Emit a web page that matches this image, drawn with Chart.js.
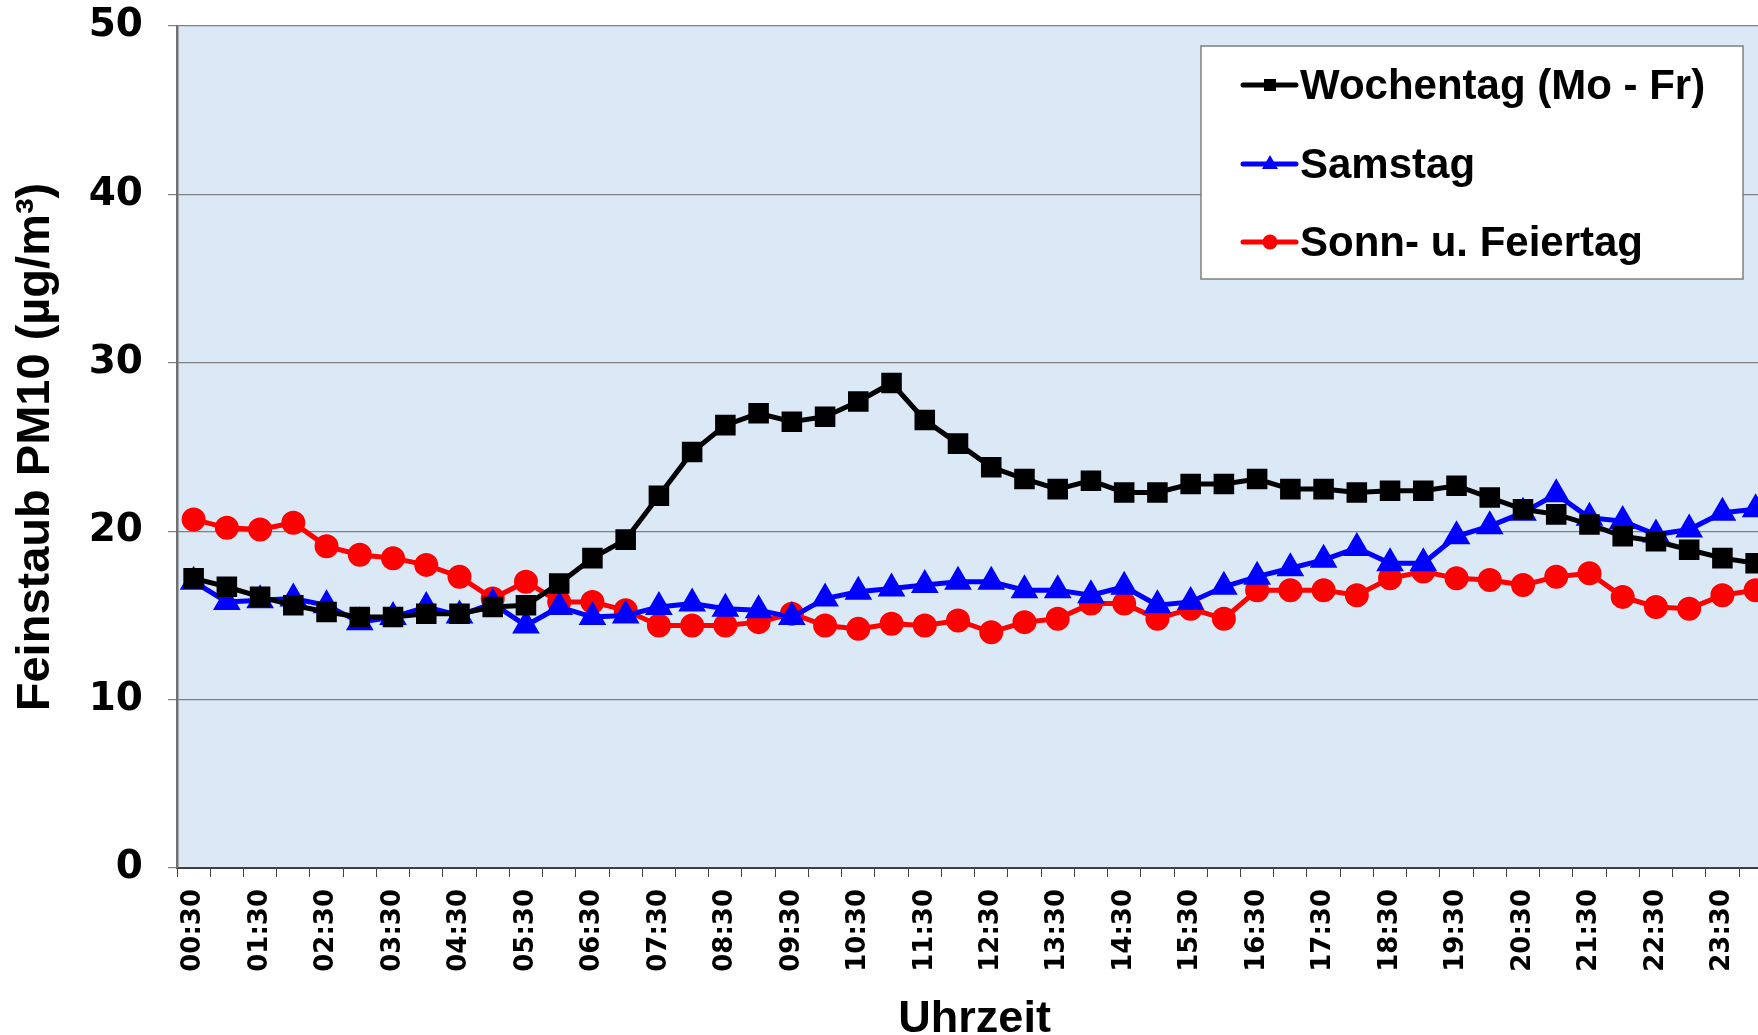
<!DOCTYPE html>
<html><head><meta charset="utf-8">
<script src="https://cdn.jsdelivr.net/npm/chart.js@4"></script>
<style>
html,body{margin:0;padding:0;background:#fff;overflow:hidden;width:1758px;height:1035px}
#wrap{width:1799px;height:1035px;position:relative}
</style>
</head><body><div id="wrap"><canvas id="c" width="1799" height="1035"></canvas></div>
<script>
const categories = ["00:30","01:00","01:30","02:00","02:30","03:00","03:30","04:00","04:30","05:00","05:30","06:00",
  "06:30","07:00","07:30","08:00","08:30","09:00","09:30","10:00","10:30","11:00","11:30","12:00",
  "12:30","13:00","13:30","14:00","14:30","15:00","15:30","16:00","16:30","17:00","17:30","18:00",
  "18:30","19:00","19:30","20:00","20:30","21:00","21:30","22:00","22:30","23:00","23:30","24:00"];
const wochentag = [17.2,16.7,16.1,15.6,15.2,14.9,14.9,15.1,15.1,15.5,15.6,16.9,
  18.4,19.5,22.1,24.7,26.3,27.0,26.5,26.8,27.7,28.8,26.6,25.2,
  23.8,23.1,22.5,23.0,22.3,22.3,22.8,22.8,23.1,22.5,22.5,22.3,
  22.4,22.4,22.7,22.0,21.3,21.0,20.4,19.7,19.4,18.9,18.4,18.1];
const samstag = [17.0,15.8,15.9,16.0,15.6,14.6,14.9,15.5,15.0,15.7,14.4,15.5,
  14.9,15.0,15.5,15.7,15.4,15.3,14.9,16.0,16.4,16.6,16.8,17.0,
  17.0,16.5,16.5,16.2,16.7,15.6,15.8,16.7,17.3,17.8,18.3,19.0,
  18.1,18.1,19.7,20.3,21.1,22.2,20.8,20.6,19.8,20.1,21.1,21.3];
const sonntag = [20.7,20.2,20.1,20.5,19.1,18.6,18.4,18.0,17.3,16.0,17.0,15.8,
  15.8,15.3,14.4,14.4,14.4,14.6,15.1,14.4,14.2,14.5,14.4,14.7,
  14.0,14.6,14.8,15.7,15.7,14.8,15.4,14.8,16.5,16.5,16.5,16.2,
  17.2,17.6,17.2,17.1,16.8,17.3,17.5,16.1,15.5,15.4,16.2,16.5];
const seriesNames = ["Wochentag (Mo - Fr)","Samstag","Sonn- u. Feiertag"];
const yTitle = "Feinstaub PM10 (µg/m³)";
const xTitle = "Uhrzeit";

const bgPlugin = {
  id:'bg',
  beforeDraw(chart){
    const {ctx, chartArea:a} = chart;
    ctx.save();
    ctx.fillStyle = '#dbe8f6';
    ctx.fillRect(a.left, a.top, a.right-a.left, a.bottom-a.top);
    ctx.restore();
  }
};

const legendPlugin = {
  id:'boxLegend',
  afterDraw(chart){
    const ctx = chart.ctx;
    ctx.save();
    const bx=1201, by=46, bw=542, bh=233;
    ctx.fillStyle='#ffffff';
    ctx.fillRect(bx,by,bw,bh);
    ctx.strokeStyle='#7f7f7f';
    ctx.lineWidth=1.5;
    ctx.strokeRect(bx,by,bw,bh);
    const rows=[85,164,242];
    chart.data.datasets.forEach((ds,i)=>{
      const y=rows[i];
      ctx.strokeStyle=ds.borderColor;
      ctx.lineWidth=5;
      ctx.lineCap='round';
      ctx.beginPath(); ctx.moveTo(1243,y); ctx.lineTo(1296,y); ctx.stroke();
      ctx.fillStyle=ds.borderColor;
      const cx=1270;
      if(ds.pointStyle==='rect'){ ctx.fillRect(cx-6,y-6,12,12); }
      else if(ds.pointStyle==='triangle'){ ctx.beginPath(); ctx.moveTo(cx,y-9); ctx.lineTo(cx+8,y+5); ctx.lineTo(cx-8,y+5); ctx.closePath(); ctx.fill(); }
      else { ctx.beginPath(); ctx.arc(cx,y,7.5,0,Math.PI*2); ctx.fill(); }
      ctx.fillStyle='#000';
      ctx.font='bold 42px "Liberation Sans", Arial, sans-serif';
      ctx.textAlign='left'; ctx.textBaseline='middle';
      ctx.fillText(ds.label,1300,y+2);
    });
    ctx.restore();
  }
};

new Chart(document.getElementById('c'),{
  type:'line',
  data:{
    labels:categories,
    datasets:[
      {label:seriesNames[0],data:wochentag,borderColor:'#000000',backgroundColor:'#000000',borderWidth:5,
       pointStyle:'rect',pointRadius:11,pointHoverRadius:11,tension:0},
      {label:seriesNames[1],data:samstag,borderColor:'#0000ff',backgroundColor:'#0000ff',borderWidth:5,
       pointStyle:'triangle',pointRadius:11,pointHoverRadius:11,tension:0},
      {label:seriesNames[2],data:sonntag,borderColor:'#ff0000',backgroundColor:'#ff0000',borderWidth:5,
       pointStyle:'circle',pointRadius:9.5,pointHoverRadius:9.5,tension:0}
    ]
  },
  options:{
    responsive:false,
    animation:false,
    events:[],
    layout:{padding:{top:26,right:13,left:0,bottom:0}},
    plugins:{legend:{display:false},tooltip:{enabled:false}},
    scales:{
      x:{
        offset:true,
        grid:{display:true,drawOnChartArea:false,drawTicks:true,tickLength:9,offset:true,color:'#404040',lineWidth:1},
        border:{display:true,color:'#404040',width:2},
        ticks:{autoSkip:false,maxRotation:90,minRotation:90,padding:12,color:'#000',
          font:{family:'"DejaVu Sans", sans-serif',weight:'bold',size:26},
          callback:function(v,i){return i%2===0?this.getLabelForValue(v):'';}},
        title:{display:true,text:xTitle,color:'#000',font:{family:'"Liberation Sans", Arial, sans-serif',weight:'bold',size:45,lineHeight:0.9},padding:{top:0,bottom:-5}},
        afterFit(s){s.height=167;}
      },
      y:{
        min:0,max:50,
        grid:{color:'#808080',lineWidth:1.2,drawTicks:true,tickLength:9},
        border:{display:true,color:'#707070',width:2.5},
        ticks:{stepSize:10,padding:25,color:'#000',font:{family:'"DejaVu Sans", sans-serif',weight:'bold',size:39}},
        title:{display:true,text:yTitle,color:'#000',font:{family:'"Liberation Sans", Arial, sans-serif',weight:'bold',size:47,lineHeight:1},padding:{top:13,bottom:0}},
        afterFit(s){s.width=177;s.paddingTop=0;s.paddingBottom=0;}
      }
    }
  },
  plugins:[bgPlugin,legendPlugin]
});
</script>
</body></html>
